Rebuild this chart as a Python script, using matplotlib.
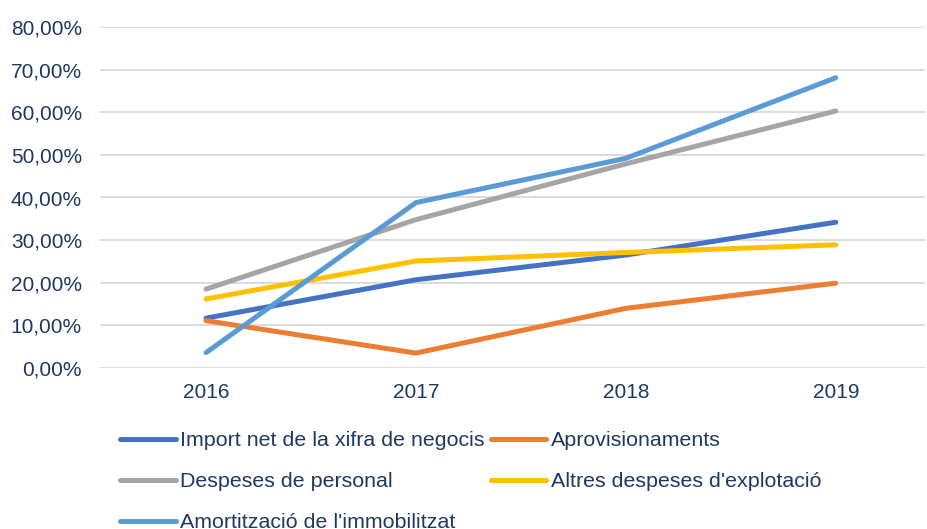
import matplotlib.pyplot as plt
from matplotlib.ticker import FuncFormatter

years = ["2016", "2017", "2018", "2019"]

import_net = [0.117, 0.207, 0.265, 0.342]
aprovisionaments = [0.111, 0.035, 0.140, 0.199]
despeses_personal = [0.185, 0.348, 0.479, 0.603]
altres_despeses = [0.162, 0.251, 0.271, 0.289]
amortitzacio = [0.036, 0.388, 0.492, 0.681]

series = [
    ("Import net de la xifra de negocis", import_net, "#4472C4"),
    ("Aprovisionaments", aprovisionaments, "#ED7D31"),
    ("Despeses de personal", despeses_personal, "#A5A5A5"),
    ("Altres despeses d'explotació", altres_despeses, "#FFC000"),
    ("Amortització de l'immobilitzat", amortitzacio, "#5B9BD5"),
]

text_color = "#1F3864"
plt.rcParams["font.family"] = ["Liberation Sans", "DejaVu Sans"]
plt.rcParams["font.size"] = 15

fig = plt.figure(figsize=(9.27, 5.29), dpi=100)
ax = fig.add_axes([100 / 927, 161 / 529, 825 / 927, 341 / 529])

x = list(range(len(years)))
lines = []
for name, vals, color in series:
    ln, = ax.plot(x, vals, color=color, lw=3.6, solid_capstyle="round",
                  solid_joinstyle="round", label=name)
    lines.append(ln)

ax.set_xlim(-0.505, 3.425)
ax.set_ylim(0, 0.8)
ax.set_yticks([i / 10 for i in range(9)])
ax.yaxis.set_major_formatter(FuncFormatter(lambda v, p: f"{v * 100:.2f}%".replace(".", ",")))
ax.set_xticks(x)
ax.set_xticklabels(years)
ax.grid(axis="y", color="#D9D9D9", lw=1.3)
ax.set_axisbelow(True)
for s in ax.spines.values():
    s.set_visible(False)
ax.tick_params(axis="both", length=0, colors=text_color, labelsize=15)
ax.tick_params(axis="y", pad=13)
ax.tick_params(axis="x", pad=11)

# legend fills column by column, so reorder to get row-wise layout
order = [0, 2, 4, 1, 3]
leg = fig.legend([lines[i] for i in order], [series[i][0] for i in order],
                 loc="upper left", bbox_to_anchor=(120 / 927, 1 - 431 / 529),
                 ncol=2, frameon=False, borderpad=0, borderaxespad=0,
                 handlelength=2.6, handletextpad=0.2, columnspacing=0.3,
                 labelspacing=1.03, fontsize=15.4)
for t in leg.get_texts():
    t.set_color(text_color)

fig.savefig("out.png", dpi=100)
